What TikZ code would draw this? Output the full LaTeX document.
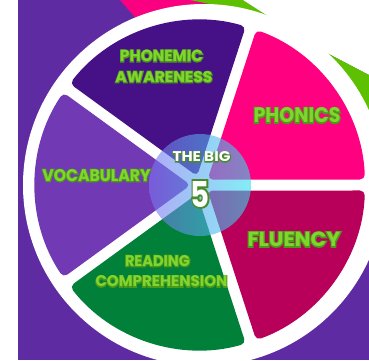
\documentclass[tikz,border=0pt]{standalone}
\usepackage{fontspec}
\newfontfamily\lf{Poppins}
\definecolor{bgpurple}{RGB}{95,43,163}
\definecolor{topPink}{RGB}{250,0,128}
\definecolor{topGreen}{RGB}{93,192,0}
\definecolor{phon}{RGB}{255,0,128}
\definecolor{phem}{RGB}{70,17,134}
\definecolor{voc}{RGB}{114,57,180}
\definecolor{readc}{RGB}{0,128,56}
\definecolor{flu}{RGB}{184,0,90}
\definecolor{labfill}{RGB}{128,214,46}
\definecolor{cl}{RGB}{125,115,240}
\definecolor{cr}{RGB}{50,225,240}
% outline: a stroked-only copy (text render mode 1) under the filled text
\newcommand\olt[3]{\setbox0\hbox{#3}\leavevmode
  \rlap{\special{pdf:literal direct #2 w #1 RG 1 Tr}\copy0\special{pdf:literal direct 0 Tr}}\box0}
\newcommand\lbl[5]{\resizebox{#1}{#2}{\olt{#3}{#4}{#5}}}
\def\labline{0.30 0.60 0.10}
\def\bigline{0.28 0.55 0.16}
\begin{document}
\begin{tikzpicture}[x=1pt,y=1pt,
  lab/.style={inner sep=0pt, text=labfill, font=\fontsize{16}{18}\lf\bfseries},
  big/.style={inner sep=0pt, text=white, font=\fontsize{15}{18}\lf\bfseries}]
\useasboundingbox (0,0) rectangle (369,360);
\fill[white] (0,0) rectangle (369,360);
\fill[bgpurple] (17.5,0) rectangle (369,360);
% top decoration
\fill[topPink] (120,360) -- (190,360) -- (268,344) -- (155,320) -- cycle;
\fill[topGreen] (190,360) -- (243,360) -- (268,344) -- cycle;
\fill[white] (243,360) -- (369,360) -- (369,285) -- (327,307) -- (268,344) -- cycle;
\fill[topGreen] (327,307) -- (369,285) -- (369,220) -- (327,250) -- cycle;
% white disk
\fill[white] (204,175) circle[radius=181];
% sectors
\begin{scope}[shift={(200,175)}]
\foreach \a/\c in {0/phon, 72/phem, 144/voc, 216/readc, 288/flu}{
  \pgfmathsetmacro\m{\a+36}
  \pgfmathsetmacro\s{\a+1.91}
  \pgfmathsetmacro\e{\a+72-1.91}
  \fill[\c, rounded corners=5pt] (\m:9.36) -- (\s:165) arc[start angle=\s, end angle=\e, radius=165] -- cycle;
}
\end{scope}
% central translucent circle
\shade[left color=cl, right color=cr, opacity=0.6] (200,175) circle[radius=51];
% labels
\node[lab] (pa1) at (161.5,304) {\lbl{83pt}{11.5pt}{\labline}{1.8}{PHONEMIC}};
\node[lab] (pa2) at (164,283) {\lbl{97pt}{11pt}{\labline}{1.8}{AWARENESS}};
\node[lab] (ph) at (297,244.5) {\lbl{87pt}{15pt}{\labline}{1.8}{PHONICS}};
\node[lab] (fl) at (294,120.5) {\lbl{93pt}{14.5pt}{\labline}{1.8}{FLUENCY}};
\node[lab] (vo) at (96.5,184.5) {\lbl{108pt}{12pt}{\labline}{1.8}{VOCABULARY}};
\node[lab] (rc1) at (157.5,99) {\lbl{65pt}{11pt}{\labline}{1.8}{READING}};
\node[lab] (rc2) at (161.5,78.5) {\lbl{132pt}{11pt}{\labline}{1.8}{COMPREHENSION}};
\node[big] (tb) at (201.5,203) {\lbl{58pt}{10pt}{\bigline}{1.6}{THE BIG}};
\node[big] (five) at (200,166) {\lbl{19pt}{26pt}{\bigline}{1.6}{5}};
\end{tikzpicture}
\end{document}
